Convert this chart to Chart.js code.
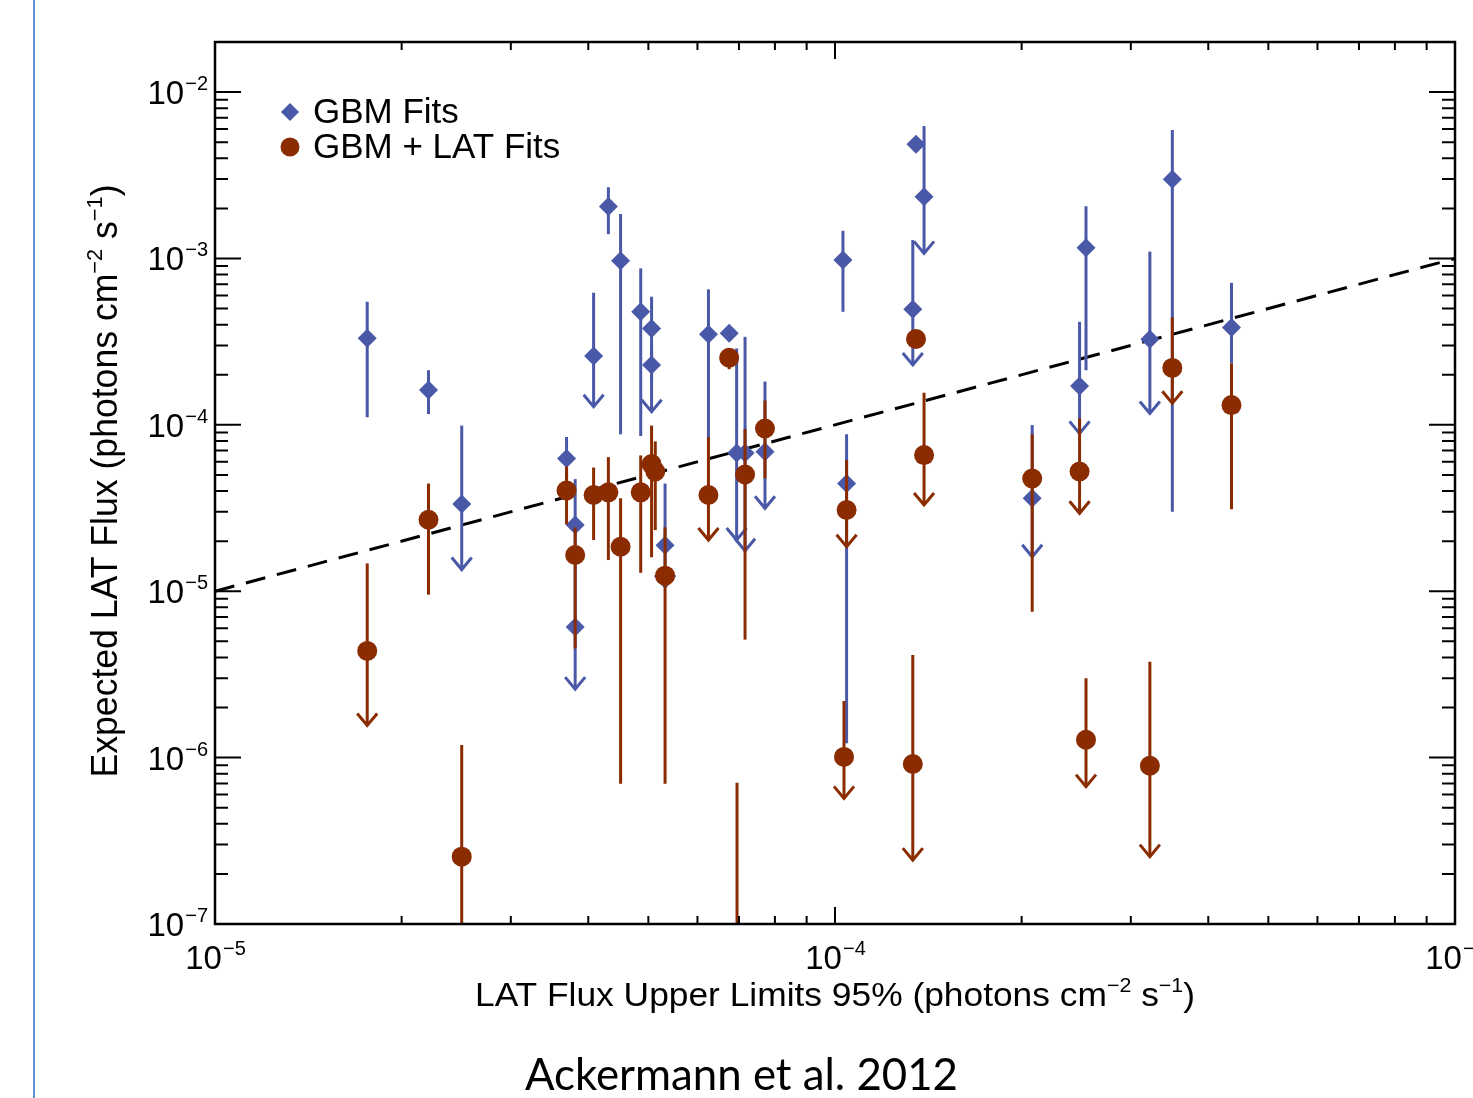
<!DOCTYPE html>
<html>
<head>
<meta charset="utf-8">
<script src="https://cdn.jsdelivr.net/npm/chart.js@4.4.1/dist/chart.umd.min.js"></script>
<style>
    html, body { margin: 0; padding: 0; background: #fff; }
    #contenedor { width: 1473px; height: 1098px; position: relative; }
</style>
</head>
<body>
<div id="contenedor"><canvas id="graficoFlujo" width="1473" height="1098"></canvas></div>
<script>
// GBM Fits (diamantes azules): x, y, extremo superior e inferior de la barra, limite superior (flecha)
let gbmX = [1.76e-5, 2.21e-5, 2.50e-5, 3.69e-5, 3.81e-5, 3.81e-5, 4.08e-5, 4.31e-5, 4.51e-5, 4.86e-5,
            5.06e-5, 5.06e-5, 5.32e-5, 6.25e-5, 6.75e-5, 6.94e-5, 7.16e-5, 7.71e-5, 1.03e-4, 1.044e-4,
            1.335e-4, 1.351e-4, 1.392e-4, 2.08e-4, 2.48e-4, 2.54e-4, 3.22e-4, 3.50e-4, 4.36e-4];
let gbmY = [3.31e-4, 1.62e-4, 3.35e-5, 6.27e-5, 2.50e-5, 6.09e-6, 2.59e-4, 2.05e-3, 9.69e-4, 4.78e-4,
            3.80e-4, 2.29e-4, 1.89e-5, 3.50e-4, 3.55e-4, 6.77e-5, 6.77e-5, 6.89e-5, 9.78e-4, 4.44e-5,
            4.96e-4, 4.85e-3, 2.35e-3, 3.62e-5, 1.71e-4, 1.16e-3, 3.27e-4, 2.99e-3, 3.85e-4];
let gbmAlto = [5.49e-4, 2.13e-4, 9.9e-5, 8.45e-5, 4.72e-5, 1.55e-5, 6.22e-4, 2.68e-3, 1.85e-3, 8.72e-4,
               5.89e-4, 3.02e-4, 4.44e-5, 6.52e-4, 3.55e-4, 2.88e-4, 3.38e-4, 1.82e-4, 1.467e-3, 8.77e-5,
               1.29e-3, 4.85e-3, 6.25e-3, 9.97e-5, 4.16e-4, 2.06e-3, 1.10e-3, 5.91e-3, 7.14e-4];
let gbmBajo = [1.11e-4, 1.16e-4, 1.35e-5, 4.7e-5, 1.55e-5, 2.58e-6, 1.285e-4, 1.40e-3, 8.77e-5, 8.57e-5,
               1.86e-4, 1.20e-4, 1.06e-5, 8.1e-5, 3.55e-4, 2.03e-5, 1.75e-5, 3.15e-5, 4.78e-4, 1.22e-6,
               2.29e-4, 4.85e-3, 1.073e-3, 1.61e-5, 8.89e-5, 2.13e-4, 1.17e-4, 3.00e-5, 2.34e-4];
let gbmLimite = [0, 0, 1, 0, 0, 1, 1, 0, 0, 0,
                 0, 1, 1, 0, 0, 1, 1, 1, 0, 0,
                 1, 0, 1, 1, 1, 0, 1, 0, 0];

// GBM + LAT Fits (circulos marrones)
let latX = [1.76e-5, 2.21e-5, 2.50e-5, 3.69e-5, 3.81e-5, 4.08e-5, 4.31e-5, 4.51e-5, 4.86e-5, 5.06e-5,
            5.13e-5, 5.32e-5, 6.25e-5, 6.75e-5, 6.95e-5, 7.16e-5, 7.71e-5, 1.034e-4, 1.044e-4, 1.335e-4,
            1.351e-4, 1.392e-4, 2.08e-4, 2.48e-4, 2.54e-4, 3.22e-4, 3.50e-4, 4.36e-4];
let latY = [4.38e-6, 2.69e-5, 2.54e-7, 4.03e-5, 1.65e-5, 3.79e-5, 3.93e-5, 1.85e-5, 3.93e-5, 5.81e-5,
            5.24e-5, 1.24e-5, 3.79e-5, 2.53e-4, 3e-8, 5.03e-5, 9.51e-5, 1.01e-6, 3.08e-5, 9.15e-7,
            3.28e-4, 6.58e-5, 4.76e-5, 5.24e-5, 1.28e-6, 8.94e-7, 2.20e-4, 1.315e-4];
let latAlto = [1.47e-5, 4.44e-5, 1.19e-6, 5.62e-5, 2.42e-5, 5.54e-5, 6.40e-5, 3.62e-5, 6.55e-5, 9.9e-5,
               7.95e-5, 2.42e-5, 8.45e-5, 2.81e-4, 7.06e-7, 9.44e-5, 1.40e-4, 2.19e-6, 6.14e-5, 4.14e-6,
               3.71e-4, 1.56e-4, 8.77e-5, 1.094e-4, 3.00e-6, 3.77e-6, 4.43e-4, 2.34e-4];
let latBajo = [1.56e-6, 9.53e-6, 5e-8, 2.52e-5, 4.53e-6, 2.03e-5, 1.54e-5, 6.97e-7, 1.29e-5, 1.60e-5,
               2.33e-5, 6.97e-7, 2.03e-5, 2.16e-4, 1e-8, 5.12e-6, 4.77e-5, 5.69e-7, 1.85e-5, 2.42e-7,
               2.9e-4, 3.30e-5, 7.53e-6, 2.94e-5, 6.69e-7, 2.54e-7, 1.35e-4, 3.11e-5];
let latLimite = [1, 0, 0, 0, 0, 0, 0, 0, 0, 0,
                 0, 0, 1, 0, 0, 0, 0, 1, 1, 1,
                 0, 1, 0, 1, 1, 1, 1, 0];

// recta y = x
let lineaX = [1e-5, 1e-3];
let lineaY = [1e-5, 1e-3];

// ticks principales
let ticksX = [1e-5, 1e-4, 1e-3];
let ticksY = [1e-7, 1e-6, 1e-5, 1e-4, 1e-3, 1e-2];

let colorAzul = "#4a58a8";
let colorMarron = "#8a2c00";
let fuente = '"Liberation Sans", Arial, sans-serif';

function armarPuntos(xs, ys) {
    return xs.map((x, i) => ({ x: x, y: ys[i] }));
}

function exponente(v) {
    let e = Math.round(Math.log10(v));
    return (e < 0 ? "\u2212" : "") + Math.abs(e);
}

// dibuja "10" con el exponente en superindice
function potencia(ctx, v, x, base, alinear) {
    ctx.font = "33px " + fuente;
    let w1 = ctx.measureText("10").width;
    ctx.font = "20px " + fuente;
    let w2 = ctx.measureText(exponente(v)).width;
    let x0 = alinear === "center" ? x - (w1 + w2) / 2 : x - (w1 + w2);
    ctx.textAlign = "left";
    ctx.textBaseline = "alphabetic";
    ctx.font = "33px " + fuente;
    ctx.fillText("10", x0, base);
    ctx.font = "20px " + fuente;
    ctx.fillText(exponente(v), x0 + w1 + 1, base - 14);
}

// texto con partes en superindice, centrado y ajustado a un ancho
function textoCompuesto(ctx, partes, cx, base, tam, ancho) {
    let total = 0;
    partes.forEach(p => {
        ctx.font = (p.sup ? Math.round(tam * 0.62) : tam) + "px " + fuente;
        total += ctx.measureText(p.t).width;
    });
    let sx = ancho ? ancho / total : 1;
    ctx.save();
    ctx.translate(cx, base);
    ctx.scale(sx, 1);
    ctx.textAlign = "left";
    ctx.textBaseline = "alphabetic";
    let x = -total / 2;
    partes.forEach(p => {
        ctx.font = (p.sup ? Math.round(tam * 0.62) : tam) + "px " + fuente;
        ctx.fillText(p.t, x, p.sup ? -tam * 0.42 : 0);
        x += ctx.measureText(p.t).width;
    });
    ctx.restore();
}

let barrasError = {
    id: "barrasError",
    beforeDatasetDraw(chart, args) {
        let ds = chart.data.datasets[args.index];
        if (!ds.errAlto) return;
        let ctx = chart.ctx;
        let sx = chart.scales.x, sy = chart.scales.y, a = chart.chartArea;
        ctx.save();
        ctx.beginPath();
        ctx.rect(a.left, a.top, a.right - a.left, a.bottom - a.top);
        ctx.clip();
        ctx.strokeStyle = ds.backgroundColor;
        ctx.lineWidth = 3;
        ds.data.forEach((p, i) => {
            let px = sx.getPixelForValue(p.x);
            let yA = sy.getPixelForValue(ds.errAlto[i]);
            let yB = sy.getPixelForValue(ds.errBajo[i]);
            if (yB - yA > 1) {
                ctx.beginPath();
                ctx.moveTo(px, yA);
                ctx.lineTo(px, yB);
                ctx.stroke();
            }
            if (ds.limite[i]) {
                ctx.beginPath();
                ctx.moveTo(px - 10, yB - 12);
                ctx.lineTo(px, yB);
                ctx.lineTo(px + 10, yB - 12);
                ctx.stroke();
            }
        });
        ctx.restore();
    }
};

let marco = {
    id: "marco",
    afterDraw(chart) {
        let ctx = chart.ctx;
        let sx = chart.scales.x, sy = chart.scales.y, a = chart.chartArea;
        ctx.save();
        ctx.fillStyle = "#000";

        // linea azul del borde de la diapositiva
        ctx.strokeStyle = "#5b8fd2";
        ctx.lineWidth = 2;
        ctx.beginPath();
        ctx.moveTo(34, 0);
        ctx.lineTo(34, 1098);
        ctx.stroke();

        ctx.strokeStyle = "#000";
        ctx.lineWidth = 2.5;
        ctx.strokeRect(a.left, a.top, a.right - a.left, a.bottom - a.top);

        // ticks del eje y (izquierda y derecha)
        ctx.lineWidth = 2;
        for (let e = -7; e <= -2; e++) {
            for (let k = 1; k <= 9; k++) {
                let v = k * Math.pow(10, e);
                if (v < sy.min * 0.999 || v >= sy.max) continue;
                let py = sy.getPixelForValue(v);
                let largo = k === 1 ? 26 : 13;
                ctx.beginPath();
                ctx.moveTo(a.left, py); ctx.lineTo(a.left + largo, py);
                ctx.moveTo(a.right, py); ctx.lineTo(a.right - largo, py);
                ctx.stroke();
            }
        }
        // ticks del eje x (abajo y arriba)
        for (let e = -5; e <= -3; e++) {
            for (let k = 1; k <= 9; k++) {
                let v = k * Math.pow(10, e);
                if (v < sx.min * 0.999 || v > sx.max * 1.001) continue;
                let px = sx.getPixelForValue(v);
                let largo = k === 1 ? 17 : 8;
                ctx.beginPath();
                ctx.moveTo(px, a.bottom); ctx.lineTo(px, a.bottom - largo);
                ctx.moveTo(px, a.top); ctx.lineTo(px, a.top + largo);
                ctx.stroke();
            }
        }

        // etiquetas
        ticksY.forEach(v => potencia(ctx, v, a.left - 8, sy.getPixelForValue(v) + 12, "right"));
        ticksX.forEach(v => potencia(ctx, v, sx.getPixelForValue(v), a.bottom + 45, "center"));

        // titulos de ejes
        textoCompuesto(ctx, [
            { t: "LAT Flux Upper Limits 95% (photons cm" },
            { t: "\u22122", sup: true },
            { t: " s" },
            { t: "\u22121", sup: true },
            { t: ")" }
        ], (a.left + a.right) / 2, 1006, 33, 720);

        ctx.save();
        ctx.translate(117, 481);
        ctx.rotate(-Math.PI / 2);
        textoCompuesto(ctx, [
            { t: "Expected LAT Flux (photons cm" },
            { t: "\u22122", sup: true },
            { t: " s" },
            { t: "\u22121", sup: true },
            { t: ")" }
        ], 0, 0, 36, 593);
        ctx.restore();

        // leyenda
        ctx.fillStyle = colorAzul;
        ctx.beginPath();
        ctx.moveTo(290, 103); ctx.lineTo(299, 112); ctx.lineTo(290, 121); ctx.lineTo(281, 112);
        ctx.closePath();
        ctx.fill();
        ctx.fillStyle = colorMarron;
        ctx.beginPath();
        ctx.arc(290, 147, 9.5, 0, Math.PI * 2);
        ctx.fill();
        ctx.fillStyle = "#000";
        ctx.font = "35px " + fuente;
        ctx.textAlign = "left";
        ctx.fillText("GBM Fits", 313, 123);
        ctx.fillText("GBM + LAT Fits", 313, 158);

        // pie
        ctx.font = '44px Lato, "Open Sans", sans-serif';
        let w = ctx.measureText("Ackermann et al. 2012").width;
        ctx.save();
        ctx.translate(525, 1090);
        ctx.scale(433 / w, 1);
        ctx.fillText("Ackermann et al. 2012", 0, 0);
        ctx.restore();

        ctx.restore();
    }
};

let grafico = new Chart(document.getElementById("graficoFlujo"), {
    type: "scatter",
    data: {
        datasets: [
            {
                label: "GBM + LAT Fits",
                data: armarPuntos(latX, latY),
                backgroundColor: colorMarron,
                borderWidth: 0,
                pointStyle: "circle",
                pointRadius: 10,
                errAlto: latAlto,
                errBajo: latBajo,
                limite: latLimite,
                order: 1
            },
            {
                label: "GBM Fits",
                data: armarPuntos(gbmX, gbmY),
                backgroundColor: colorAzul,
                borderWidth: 0,
                pointStyle: "rectRot",
                pointRadius: 9.5,
                errAlto: gbmAlto,
                errBajo: gbmBajo,
                limite: gbmLimite,
                order: 2
            },
            {
                label: "y = x",
                data: armarPuntos(lineaX, lineaY),
                showLine: true,
                borderColor: "#000",
                borderWidth: 3,
                borderDash: [20, 12],
                pointRadius: 0,
                order: 3
            }
        ]
    },
    options: {
        responsive: false,
        animation: false,
        devicePixelRatio: 1,
        layout: { padding: { left: 215, right: 18, top: 42, bottom: 174 } },
        scales: {
            x: { type: "logarithmic", min: 1e-5, max: 1e-3, display: false },
            y: { type: "logarithmic", min: 1e-7, max: 2e-2, display: false }
        },
        plugins: {
            legend: { display: false },
            tooltip: { enabled: false }
        }
    },
    plugins: [barrasError, marco]
});
</script>
</body>
</html>
